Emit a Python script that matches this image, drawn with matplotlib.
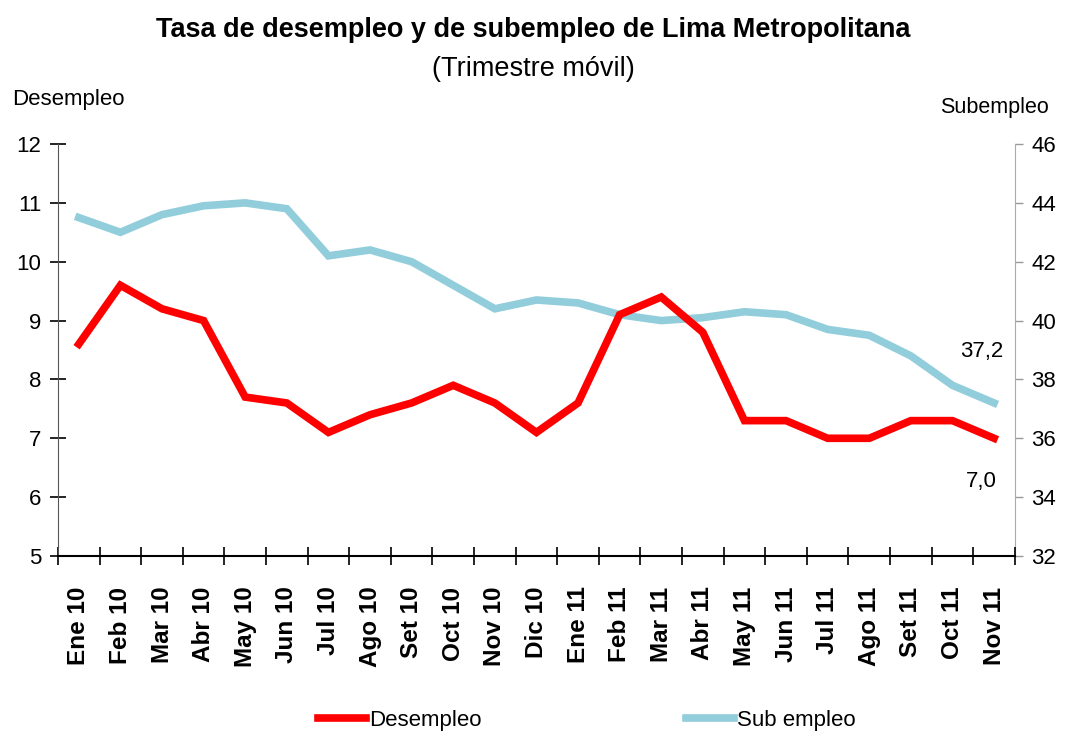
import matplotlib.pyplot as plt
import numpy as np

plt.rcParams['font.family'] = ['Liberation Sans', 'DejaVu Sans']

meses = ['Ene 10', 'Feb 10', 'Mar 10', 'Abr 10', 'May 10', 'Jun 10', 'Jul 10',
         'Ago 10', 'Set 10', 'Oct 10', 'Nov 10', 'Dic 10', 'Ene 11', 'Feb 11',
         'Mar 11', 'Abr 11', 'May 11', 'Jun 11', 'Jul 11', 'Ago 11', 'Set 11',
         'Oct 11', 'Nov 11']
desempleo = [8.6, 9.6, 9.2, 9.0, 7.7, 7.6, 7.1, 7.4, 7.6, 7.9, 7.6, 7.1, 7.6,
             9.1, 9.4, 8.8, 7.3, 7.3, 7.0, 7.0, 7.3, 7.3, 7.0]
subempleo = [43.5, 43.0, 43.6, 43.9, 44.0, 43.8, 42.2, 42.4, 42.0, 41.2, 40.4,
             40.7, 40.6, 40.2, 40.0, 40.1, 40.3, 40.2, 39.7, 39.5, 38.8, 37.8, 37.2]

x = np.arange(len(meses))

fig = plt.figure(figsize=(10.8, 7.34), dpi=100)
ax = fig.add_axes([0.0537, 0.2425, 0.886, 0.5613])
ax2 = ax.twinx()

l2, = ax2.plot(x, subempleo, color='#92CDDC', lw=5.5, solid_joinstyle='miter', label='Sub empleo')
l1, = ax.plot(x, desempleo, color='#FF0000', lw=5.5, solid_joinstyle='miter', label='Desempleo')
ax.set_zorder(ax2.get_zorder() + 1)
ax.patch.set_visible(False)

ax.set_xlim(-0.5, len(meses) - 0.5)
ax.set_ylim(5, 12)
ax2.set_ylim(32, 46)
ax.set_yticks(range(5, 13))
ax2.set_yticks(range(32, 47, 2))

ax.set_xticks(x)
ax.set_xticklabels(meses, rotation=90, fontsize=17.5, fontweight='bold')
ax.set_xticks(np.arange(-0.5, len(meses), 1), minor=True)
ax.tick_params(axis='x', which='major', length=0, pad=22)
ax.tick_params(axis='x', which='minor', direction='inout', length=13, width=1.2)
ax.tick_params(axis='y', direction='inout', length=12, width=1.2, labelsize=16, pad=6)
ax2.tick_params(axis='y', direction='out', length=6, width=1, color='#999999', labelsize=16, pad=6)

for s in ['top', 'right']:
    ax.spines[s].set_visible(False)
for s in ['top', 'left', 'bottom']:
    ax2.spines[s].set_visible(False)
ax.spines['left'].set_color('#555555')
ax.spines['bottom'].set_linewidth(1.5)
ax2.spines['right'].set_color('#aaaaaa')

ax2.annotate('37,2', (x[-1], subempleo[-1]), xytext=(-9, 37), textcoords='offset points',
             ha='center', va='center', fontsize=16)
ax.annotate('7,0', (x[-1], desempleo[-1]), xytext=(-9, -31), textcoords='offset points',
            ha='center', va='center', fontsize=16)

fig.text(0.494, 0.959, 'Tasa de desempleo y de subempleo de Lima Metropolitana',
         ha='center', va='center', fontsize=19.5, fontweight='bold')
fig.text(0.494, 0.906, '(Trimestre móvil)', ha='center', va='center', fontsize=19.5)
fig.text(0.011, 0.864, 'Desempleo', ha='left', va='center', fontsize=16)
fig.text(0.971, 0.854, 'Subempleo', ha='right', va='center', fontsize=15.5)

fig.legend([l1, l2], ['Desempleo', 'Sub empleo'], loc='center', bbox_to_anchor=(0.543, 0.019),
           ncol=2, frameon=False, fontsize=16, handlelength=2.2, handletextpad=0.1,
           columnspacing=9.2)

fig.savefig('out.png', dpi=100)
